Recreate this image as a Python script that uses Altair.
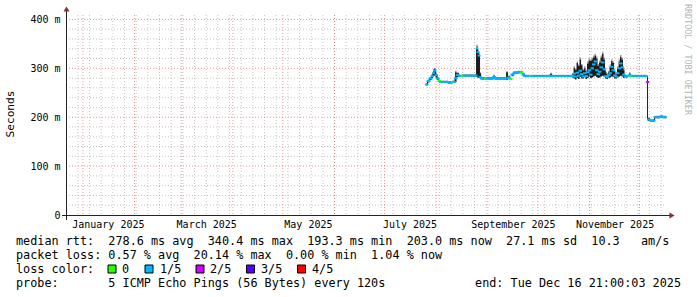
import altair as alt
import pandas as pd

# ---------------- data ----------------
times = [
    "2025-07-25T21:00:00", "2025-07-26T19:00:00", "2025-07-28T00:00:00", "2025-07-29T05:00:00",
    "2025-07-30T02:00:00", "2025-07-30T17:00:00", "2025-07-31T14:00:00", "2025-08-01T12:00:00",
    "2025-08-02T10:00:00", "2025-08-03T07:00:00", "2025-08-05T17:00:00", "2025-08-08T02:00:00",
    "2025-08-10T12:00:00", "2025-08-11T10:00:00", "2025-08-12T07:00:00", "2025-08-13T05:00:00",
    "2025-08-14T17:00:00", "2025-08-16T12:00:00", "2025-08-17T17:00:00", "2025-08-21T07:00:00",
    "2025-08-24T14:00:00", "2025-08-25T05:00:00", "2025-08-25T19:00:00", "2025-08-26T10:00:00",
    "2025-08-27T00:00:00", "2025-08-27T22:00:00", "2025-08-30T07:00:00", "2025-08-31T05:00:00",
    "2025-09-04T02:00:00", "2025-09-05T07:00:00", "2025-09-08T07:00:00", "2025-09-11T22:00:00",
    "2025-09-13T02:00:00", "2025-09-14T07:00:00", "2025-09-15T05:00:00", "2025-09-16T10:00:00",
    "2025-09-19T02:00:00", "2025-09-20T22:00:00", "2025-09-21T19:00:00", "2025-09-22T17:00:00",
    "2025-09-26T07:00:00", "2025-09-27T05:00:00", "2025-10-05T07:00:00", "2025-10-08T07:00:00",
    "2025-10-09T12:00:00", "2025-10-17T07:00:00", "2025-10-21T12:00:00", "2025-10-22T10:00:00",
    "2025-10-23T07:00:00", "2025-10-24T05:00:00", "2025-10-25T02:00:00", "2025-10-26T00:00:00",
    "2025-10-26T22:00:00", "2025-10-27T19:00:00", "2025-10-28T17:00:00", "2025-10-29T14:00:00",
    "2025-10-30T12:00:00", "2025-10-31T10:00:00", "2025-11-01T07:00:00", "2025-11-02T05:00:00",
    "2025-11-03T02:00:00", "2025-11-04T00:00:00", "2025-11-04T22:00:00", "2025-11-05T19:00:00",
    "2025-11-06T17:00:00", "2025-11-07T14:00:00", "2025-11-08T12:00:00", "2025-11-09T10:00:00",
    "2025-11-10T07:00:00", "2025-11-11T05:00:00", "2025-11-12T02:00:00", "2025-11-13T00:00:00",
    "2025-11-13T22:00:00", "2025-11-14T19:00:00", "2025-11-15T17:00:00", "2025-11-16T14:00:00",
    "2025-11-17T12:00:00", "2025-11-18T10:00:00", "2025-11-19T07:00:00", "2025-11-20T05:00:00",
    "2025-11-21T02:00:00", "2025-11-22T00:00:00", "2025-11-23T12:00:00", "2025-11-24T17:00:00",
    "2025-11-25T14:00:00", "2025-11-26T19:00:00", "2025-12-01T07:00:00", "2025-12-04T22:00:00",
    "2025-12-05T12:00:00", "2025-12-06T02:00:00", "2025-12-07T07:00:00", "2025-12-09T02:00:00",
    "2025-12-10T00:00:00", "2025-12-13T07:00:00", "2025-12-15T02:00:00", "2025-12-16T21:00:00",
]
median_ms = [
    267, 274, 279, 284, 290, 295, 286, 279, 274, 272, 272, 271, 272, 272, 280, 286,
    284, 285, 285, 285, 285, 340, 333, 326, 282, 279, 278, 279, 282, 279, 279, 279,
    281, 278, 287, 291, 292, 292, 288, 284, 284, 284, 284, 285, 284, 284, 284, 289,
    283, 291, 285, 295, 288, 283, 290, 284, 292, 296, 287, 300, 308, 314, 296, 288,
    293, 302, 312, 298, 284, 282, 286, 290, 303, 296, 285, 283, 290, 300, 310, 302,
    287, 283, 284, 286, 284, 284, 284, 284, 272, 195, 193, 193, 200, 201, 200, 203,
]
smoke_lo_ms = [
    265, 271, 276, 280, 283, 285, 281, 276, 272, 270, 270, 269, 270, 270, 272, 282,
    282, 283, 283, 283, 283, 282, 280, 280, 279, 277, 276, 277, 279, 277, 277, 276,
    278, 276, 284, 289, 290, 290, 285, 282, 282, 282, 282, 282, 282, 282, 281, 279,
    277, 280, 278, 282, 279, 279, 282, 278, 280, 283, 280, 281, 283, 285, 282, 280,
    281, 283, 285, 282, 279, 278, 280, 281, 283, 282, 279, 279, 281, 283, 285, 283,
    280, 281, 282, 283, 282, 282, 282, 282, 195, 192, 191, 191, 198, 199, 198, 201,
]
smoke_hi_ms = [
    269, 276, 281, 287, 296, 299, 289, 281, 276, 274, 274, 273, 274, 274, 292, 290,
    286, 287, 287, 287, 287, 346, 336, 330, 290, 281, 280, 281, 285, 281, 281, 292,
    284, 280, 289, 293, 294, 294, 290, 286, 286, 286, 286, 289, 286, 286, 288, 300,
    297, 311, 305, 318, 306, 296, 300, 294, 310, 316, 315, 318, 322, 326, 320, 305,
    312, 322, 330, 318, 292, 288, 292, 304, 315, 311, 293, 287, 300, 314, 323, 318,
    296, 286, 286, 290, 286, 286, 286, 286, 284, 198, 195, 195, 202, 203, 202, 205,
]
smoke_top_ms = [
    270, 277, 282, 289, 298, 301, 291, 282, 277, 275, 275, 274, 275, 275, 295, 292,
    287, 288, 288, 288, 288, 349, 338, 333, 292, 282, 281, 282, 287, 282, 282, 294,
    285, 281, 290, 294, 295, 295, 291, 287, 287, 287, 287, 291, 287, 287, 290, 304,
    300, 314, 308, 322, 309, 299, 304, 297, 314, 320, 318, 322, 326, 329, 324, 309,
    316, 326, 333, 322, 295, 290, 295, 308, 318, 314, 296, 289, 304, 318, 327, 321,
    299, 287, 287, 292, 287, 287, 287, 287, 285, 199, 196, 196, 203, 204, 203, 206,
]
loss_idx = [
    1, 1, 1, 1, 1, 1, 1, 1, 0, 1, 1, 1, 0, 1, 1, 1,
    1, 0, 1, 1, 1, 1, 1, 1, 1, 1, 0, 1, 1, 1, 1, 1,
    1, 0, 1, 1, 1, 0, 1, 1, 0, 1, 1, 1, 1, 1, 1, 1,
    1, 1, 1, 1, 1, 1, 1, 1, 1, 1, 1, 1, 1, 1, 1, 1,
    1, 1, 1, 1, 1, 1, 1, 1, 1, 1, 1, 1, 1, 1, 1, 1,
    1, 1, 1, 1, 0, 1, 1, 1, 2, 1, 1, 1, 1, 1, 1, 1,
]

loss_labels = ["0", "1/5", "2/5", "3/5", "4/5"]
loss_colors = ["#26ff00", "#00b8ff", "#d000ff", "#5a00ff", "#ff0000"]

y_ticks = [0, 100, 200, 300, 400]
y_minor = [v for v in range(20, 401, 20) if v % 100 != 0]
y_major = [100, 200, 300, 400]
x_label_days = [(2025, 1, 16), (2025, 3, 16), (2025, 5, 16), (2025, 7, 16), (2025, 9, 16), (2025, 11, 16)]
month_starts = [d.strftime("%Y-%m-%dT%H:%M:%S") for d in pd.date_range("2025-01-01", "2025-12-01", freq="MS")]
week_starts = [d.strftime("%Y-%m-%dT%H:%M:%S") for d in pd.date_range("2024-12-29", "2025-12-16", freq="7D")]

stats_line = "median rtt:  278.6 ms avg  340.4 ms max  193.3 ms min  203.0 ms now  27.1 ms sd  10.3   am/s"
loss_line = "packet loss: 0.57 % avg  20.14 % max  0.00 % min  1.04 % now"
loss_title = "loss color:"
probe_line = "probe:       5 ICMP Echo Pings (56 Bytes) every 120s"
end_line = "end: Tue Dec 16 21:00:03 2025"
y_title = "Seconds"
watermark = "RRDTOOL / TOBI OETIKER"

# ---------------- tables ----------------
df = pd.DataFrame({"t": times, "med": median_ms, "lo": smoke_lo_ms, "hi": smoke_hi_ms,
                   "top": smoke_top_ms, "c": [loss_colors[i] for i in loss_idx]})
steps = pd.DataFrame({"t": times[:-1], "t2": times[1:], "v": median_ms[:-1],
                      "c": [loss_colors[i] for i in loss_idx[:-1]]})
conn_rows = [(times[i + 1], median_ms[i], median_ms[i + 1])
             for i in range(len(times) - 2) if loss_idx[i] == loss_idx[i + 1]]
conns = pd.DataFrame(conn_rows, columns=["t", "v", "v2"])

MONO = "DejaVu Sans Mono"
W, H = 600, 200

xscale = alt.Scale(domain=[alt.DateTime(year=2024, month=12, date=21, hours=21),
                           alt.DateTime(year=2025, month=12, date=16, hours=21)])
xaxis = alt.Axis(values=[alt.DateTime(year=y, month=m, date=d) for y, m, d in x_label_days],
                 format="%B %Y", labelFont=MONO, labelFontSize=10, labelColor="#000000",
                 ticks=False, domain=False, grid=False, labelPadding=4, title=None,
                 labelFlush=False, labelOverlap=False)
yscale = alt.Scale(domain=[0, 409], nice=False, zero=True)
yaxis = alt.Axis(values=y_ticks,
                 labelExpr="datum.value == 0 ? '0\u00a0\u00a0' : datum.value + '\u00a0m'",
                 labelFont=MONO, labelFontSize=10, labelColor="#000000", ticks=False,
                 domain=False, grid=False, labelPadding=6, title=None)


def X(f):
    return alt.X(f, type="temporal", scale=xscale, axis=xaxis)


def Y(f):
    return alt.Y(f, type="quantitative", scale=yscale, axis=yaxis)


layers = []
# grid
layers.append(alt.Chart(pd.DataFrame({"t": week_starts})).mark_rule(
    stroke="#8f8f8f", strokeOpacity=0.5, strokeDash=[1, 2], strokeWidth=1
).encode(x=X("t"), y=alt.value(0), y2=alt.value(H)))
layers.append(alt.Chart(pd.DataFrame({"v": y_minor})).mark_rule(
    stroke="#8f8f8f", strokeOpacity=0.5, strokeDash=[1, 2], strokeWidth=1
).encode(y=Y("v"), x=alt.value(0), x2=alt.value(W)))
layers.append(alt.Chart(pd.DataFrame({"t": month_starts})).mark_rule(
    stroke="#de5050", strokeOpacity=0.6, strokeDash=[1, 2], strokeWidth=1
).encode(x=X("t"), y=alt.value(0), y2=alt.value(H)))
layers.append(alt.Chart(pd.DataFrame({"v": y_major})).mark_rule(
    stroke="#de5050", strokeOpacity=0.6, strokeDash=[1, 2], strokeWidth=1
).encode(y=Y("v"), x=alt.value(0), x2=alt.value(W)))

# smoke
layers.append(alt.Chart(df).mark_area(color="#9a9a9a", interpolate="step-after").encode(
    x=X("t"), y=Y("hi"), y2="top"))
layers.append(alt.Chart(df).mark_area(color="#1c1c1c", interpolate="step-after").encode(
    x=X("t"), y=Y("lo"), y2="hi"))

# median, coloured by loss (vertical steps drawn thin and dark like the smoke)
layers.append(alt.Chart(conns).mark_rule(strokeWidth=1, color="#1c1c1c").encode(
    x=X("t"), y=Y("v"), y2="v2"))
layers.append(alt.Chart(steps).mark_rule(strokeWidth=2, strokeCap="square").encode(
    x=X("t"), x2="t2", y=Y("v"), color=alt.Color("c:N", scale=None)))

# axes with arrows
layers.append(alt.Chart(pd.DataFrame({"a": [0]})).mark_rule(color="#222222", strokeWidth=1).encode(
    x=alt.value(0.5), y=alt.value(-7), y2=alt.value(205)))
layers.append(alt.Chart(pd.DataFrame({"a": [0]})).mark_rule(color="#222222", strokeWidth=1).encode(
    y=alt.value(200.5), x=alt.value(-4), x2=alt.value(606)))
layers.append(alt.Chart(pd.DataFrame({"a": [0]})).mark_point(
    shape="triangle-up", filled=True, size=36, color="#803131", opacity=1).encode(
    x=alt.value(0.5), y=alt.value(-6)))
layers.append(alt.Chart(pd.DataFrame({"a": [0]})).mark_point(
    shape="triangle-right", filled=True, size=36, color="#803131", opacity=1).encode(
    x=alt.value(606), y=alt.value(200.5)))


def label(text, x, y, size=11.8, align="left", color="#000000", angle=0):
    return alt.Chart(pd.DataFrame({"s": [text.replace(" ", "\u00a0")]})).mark_text(
        align=align, baseline="middle", font=MONO, fontSize=size, color=color, angle=angle
    ).encode(x=alt.value(x), y=alt.value(y), text="s:N")


layers.append(label(y_title, -55, 99, size=11.2, align="center", angle=270))
layers.append(label(watermark, 622, -11, size=8.4, color="#b4b4b4", angle=90))
layers.append(label(stats_line, -50, 226))
layers.append(label(loss_line, -50, 240))
layers.append(label(loss_title, -50, 254))
layers.append(label(probe_line, -50, 268))
layers.append(label(end_line, 615, 268, align="right"))

box_x = [46, 83, 134, 184.5, 235.5]
text_x = [56, 94, 144, 195, 246]
for lab, col, bx, tx in zip(loss_labels, loss_colors, box_x, text_x):
    layers.append(alt.Chart(pd.DataFrame({"a": [0]})).mark_square(
        size=64, color=col, stroke="#000000", strokeWidth=1, opacity=1).encode(
        x=alt.value(bx), y=alt.value(254)))
    layers.append(label(lab, tx, 254))

chart = alt.layer(*layers).properties(
    width=W, height=H,
    padding={"left": 66, "top": 15, "right": 31, "bottom": 82},
    autosize=alt.AutoSizeParams(type="none"),
    background="white",
).configure_view(stroke=None)

chart.save("out.html", embed_options={"renderer": "svg", "actions": False})
